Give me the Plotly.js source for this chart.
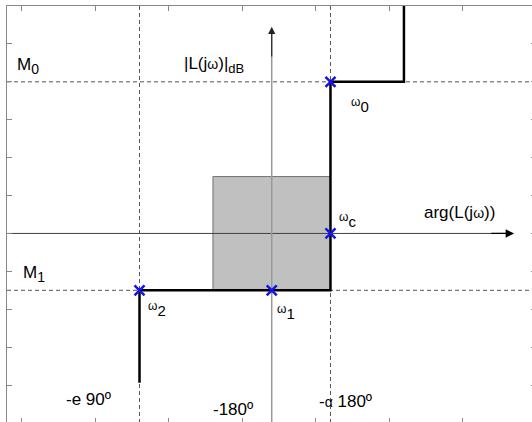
<!DOCTYPE html>
<html>
<head>
<meta charset="utf-8">
<script src="https://cdn.plot.ly/plotly-3.0.1.min.js"></script>
<style>
html, body { margin: 0; padding: 0; overflow: hidden; background: #fff; }
#plot { width: 536px; height: 423px; }
</style>
</head>
<body>
<div id="plot"></div>
<script>
// ---- data (abstract Nichols-plane units: x = phase, y = gain) ----
const stepPhase = [-1.8, -1.8, 0.8, 0.8, 1.8, 1.8];
const stepGain  = [-3.94, -1.5, -1.5, 4, 4, 6.0];
const pointPhase = [-1.8, 0, 0.8, 0.8];
const pointGain  = [-1.5, -1.5, 0, 4];
const pointNames = ['2', '1', 'c', '0'];
const levelM0 = 4;
const levelM1 = -1.5;
const phaseE90 = -1.8;
const phaseAlpha = 0.8;
const boxPhase = [-0.8, 0.8];
const boxGain  = [-1.5, 1.5];
const phaseLabels = ['-e 90º', '-180º', '-<span style="font-size:14px">α</span> 180º'];

const FONT = 'Liberation Sans, Arial, sans-serif';
const dashStyle = {color: '#555', width: 1, dash: '4px,3px'};

const traces = [
  {
    x: stepPhase, y: stepGain, mode: 'lines', type: 'scatter',
    line: {color: '#000', width: 2.5}, hoverinfo: 'skip', showlegend: false
  },
  {
    x: pointPhase, y: pointGain, mode: 'markers', type: 'scatter',
    marker: {symbol: 'x-thin', size: 10, line: {width: 2.5, color: '#1414e6'}},
    hoverinfo: 'skip', showlegend: false
  }
];

const shapes = [
  {type: 'rect', layer: 'below', x0: boxPhase[0], x1: boxPhase[1], y0: boxGain[0], y1: boxGain[1],
   fillcolor: '#c0c0c0', line: {color: '#707070', width: 1}},
  {type: 'line', layer: 'below', xref: 'paper', x0: 0, x1: 1, y0: levelM0, y1: levelM0, line: dashStyle},
  {type: 'line', layer: 'below', xref: 'paper', x0: 0, x1: 1, y0: levelM1, y1: levelM1, line: dashStyle},
  {type: 'line', layer: 'below', yref: 'paper', y0: 0, y1: 1, x0: phaseE90, x1: phaseE90, line: dashStyle},
  {type: 'line', layer: 'below', yref: 'paper', y0: 0, y1: 1, x0: phaseAlpha, x1: phaseAlpha, line: dashStyle},
  // horizontal axis
  {type: 'line', layer: 'below', x0: -3.7, x1: 3.2, y0: 0, y1: 0, line: {color: '#404040', width: 1}},
  // vertical axis
  {type: 'line', layer: 'below', x0: 0, x1: 0, y0: -5.2, y1: 5.3, line: {color: '#999', width: 1.5}}
];

const txt = (text, x, y, extra) => Object.assign({
  text: text, x: x, y: y, showarrow: false, xanchor: 'center', yanchor: 'middle',
  font: {family: FONT, size: 17, color: '#000'}
}, extra || {});

const annotations = [
  // axis arrows
  {x: 3.30, y: 0, ax: 2.97, ay: 0, axref: 'x', ayref: 'y', showarrow: true, text: '',
   arrowhead: 2, arrowsize: 1.3, arrowwidth: 1.3, arrowcolor: '#000'},
  {x: 0, y: 5.45, ax: 0, ay: 4.63, axref: 'x', ayref: 'y', showarrow: true, text: '',
   arrowhead: 2, arrowsize: 1.3, arrowwidth: 1.1, arrowcolor: '#222'},
  txt('|L(j<span style="font-size:14px">ω</span>)|<sub><span style="font-size:13px">dB</span></sub>', -0.78, 4.45),
  txt('arg(L(j<span style="font-size:14px">ω</span>))', 2.55, 0.54),
  txt('M<sub><span style="font-size:14px">0</span></sub>', -3.49, 4.42, {xanchor: 'left'}),
  txt('M<sub><span style="font-size:14px">1</span></sub>', -3.42, -1.07, {xanchor: 'left'}),
  txt(phaseLabels[0], -2.494, -4.37),
  txt(phaseLabels[1], -0.534, -4.64),
  txt(phaseLabels[2], 0.998, -4.42)
];

const shifts = [[17, -18.5], [14, -21.5], [17, 13.5], [30, -23.5]];
for (let i = 0; i < pointPhase.length; i++) {
  annotations.push(txt('<sup><span style="font-size:12px">ω</span></sup>' + pointNames[i],
    pointPhase[i], pointGain[i], {xshift: shifts[i][0], yshift: shifts[i][1],
    font: {family: FONT, size: 15, color: '#000'}}));
}

const axisCommon = {
  showgrid: false, zeroline: false, showticklabels: false,
  showline: true, linecolor: '#888', linewidth: 1, mirror: 'ticks',
  ticks: 'inside', ticklen: 5, tickcolor: '#888', tickwidth: 1,
  fixedrange: true
};

const layout = {
  width: 536, height: 423,
  margin: {l: 7, r: 0, t: 6, b: 0, pad: 0},
  paper_bgcolor: '#fff', plot_bgcolor: '#fff',
  xaxis: Object.assign({}, axisCommon, {range: [-3.604, 3.598], tick0: -3.4, dtick: 1}),
  yaxis: Object.assign({}, axisCommon, {range: [-5, 6], tick0: 0, dtick: 1}),
  shapes: shapes,
  annotations: annotations,
  showlegend: false
};

Plotly.newPlot('plot', traces, layout, {staticPlot: true, displayModeBar: false});
</script>
</body>
</html>
